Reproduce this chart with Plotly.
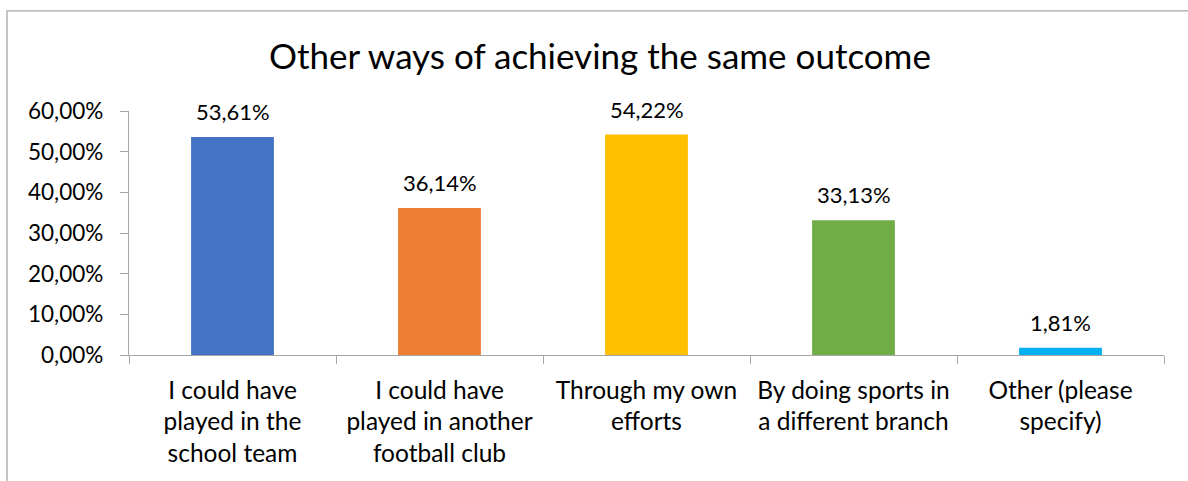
import plotly.graph_objects as go

# Survey responses: other ways of achieving the same outcome
categories = [
    "I could have played in the school team",
    "I could have played in another football club",
    "Through my own efforts",
    "By doing sports in a different branch",
    "Other (please specify)",
]
tick_labels = [
    "I could have<br>played in the<br>school team",
    "I could have<br>played in another<br>football club",
    "Through my own<br>efforts",
    "By doing sports in<br>a different branch",
    "Other (please<br>specify)",
]
values = [53.61, 36.14, 54.22, 33.13, 1.81]
y_ticks = [0, 10, 20, 30, 40, 50, 60]
colors = ["#4472C4", "#ED7D31", "#FFC000", "#70AD47", "#00B0F0"]

FONT = "Lato, 'Open Sans', sans-serif"
AXIS_GRAY = "#A6A6A6"


def pct(v):
    return f"{v:.2f}".replace(".", ",") + "%"


fig = go.Figure(
    go.Bar(
        x=categories,
        y=values,
        marker=dict(color=colors, line=dict(width=0)),
        width=0.4,
        hoverinfo="x+y",
    )
)

# Value labels above each bar
for cat, v in zip(categories, values):
    fig.add_annotation(
        x=cat, y=v, text=pct(v), showarrow=False,
        yanchor="bottom", yshift=10,
        font=dict(family=FONT, size=22, color="#000000"),
    )

# Outer chart border
fig.add_shape(
    type="rect", xref="paper", yref="paper",
    x0=-0.1179, x1=1.2, y0=-0.6, y1=1.41,
    line=dict(color=AXIS_GRAY, width=1.3), fillcolor="rgba(0,0,0,0)",
    layer="below",
)

fig.update_layout(
    width=1188, height=481,
    margin=dict(l=129, r=24, t=111, b=126),
    paper_bgcolor="white", plot_bgcolor="white",
    showlegend=False,
    font=dict(family=FONT, size=22, color="#000000"),
    title=dict(
        text="Other ways of achieving the same outcome",
        x=600 / 1188, xanchor="center", xref="container",
        y=1 - 57 / 481, yanchor="middle",
        font=dict(family=FONT, size=35, color="#000000"),
    ),
    xaxis=dict(
        tickmode="array", tickvals=categories, ticktext=tick_labels,
        tickson="boundaries", ticks="outside", ticklen=8,
        tickcolor=AXIS_GRAY, showline=True, linecolor=AXIS_GRAY,
        linewidth=1.3, showgrid=False, zeroline=False,
        tickfont=dict(family=FONT, size=24.5, color="#000000"),
        ticklabelstandoff=13,
    ),
    yaxis=dict(
        range=[0, 60], tickmode="array", tickvals=y_ticks,
        ticktext=[pct(t) for t in y_ticks],
        ticks="outside", ticklen=8, tickcolor=AXIS_GRAY,
        showline=True, linecolor=AXIS_GRAY, linewidth=1.3,
        showgrid=False, zeroline=False,
        tickfont=dict(family=FONT, size=22.5, color="#000000"),
        ticklabelstandoff=12,
    ),
)

fig.write_html("out.html")
